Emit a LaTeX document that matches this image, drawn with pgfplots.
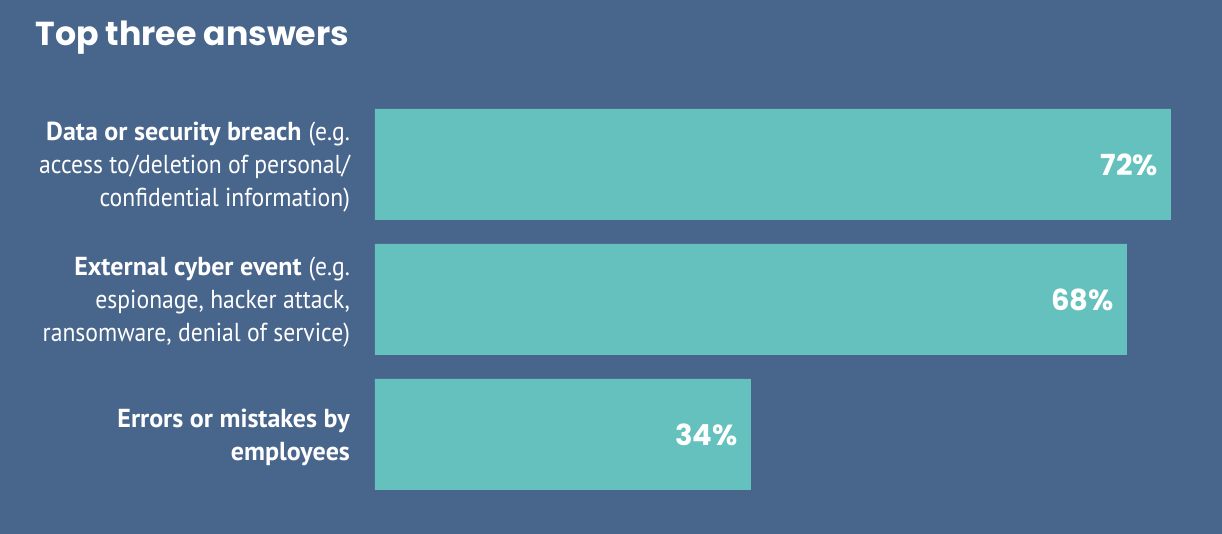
\documentclass[border=0pt]{standalone}
\usepackage{fontspec}
\setmainfont{PT Sans}
\newfontfamily\titlefont{Poppins}
\newfontfamily\narrowfont[FakeStretch=0.91]{PT Sans}
\usepackage{pgfplots}
\pgfplotsset{compat=1.18}
\definecolor{bg}{HTML}{48658C}
\definecolor{teal}{HTML}{64C1BE}

\begin{document}
\begin{tikzpicture}
\path[use as bounding box, fill=bg] (0,0) rectangle (611pt,267pt);
\node[anchor=base west, text=white, inner sep=0pt] at (17.5pt,244pt)
  {\titlefont\bfseries\fontsize{16.6}{20}\selectfont Top three answers};
\begin{axis}[
  at={(187.5pt,16pt)}, anchor=south west,
  scale only axis, width=398pt, height=202.5pt,
  xbar, bar width=55.5pt,
  xmin=0, xmax=72, ymin=-0.5, ymax=2.5,
  axis line style={draw=none}, clip=false,
  xtick=\empty,
  ytick={0,1,2},
  yticklabels={
    {\textbf{Errors or mistakes by}\\\textbf{employees}},
    {\textbf{External cyber event} {\narrowfont(e.g.}\\{\narrowfont espionage, hacker attack,}\\{\narrowfont ransomware, denial of service)}},
    {\textbf{Data or security breach} {\narrowfont(e.g.}\\{\narrowfont access to/deletion of personal/}\\{\narrowfont confidential information)}}},
  yticklabel style={align=right, text=white, font=\fontsize{13}{16.5}\selectfont, xshift=-9pt, yshift=-1.5pt},
  major tick length=0pt,
  /pgf/number format/assume math mode=true,
  nodes near coords={\pgfmathprintnumber{\pgfplotspointmeta}\%},
  point meta=x,
  nodes near coords style={anchor=east, xshift=-3pt, text=white, font=\titlefont\bfseries\fontsize{14.5}{16}\selectfont},
]
\addplot[fill=teal, draw=none] coordinates {(34,0) (68,1) (72,2)};
\end{axis}
\end{tikzpicture}
\end{document}
